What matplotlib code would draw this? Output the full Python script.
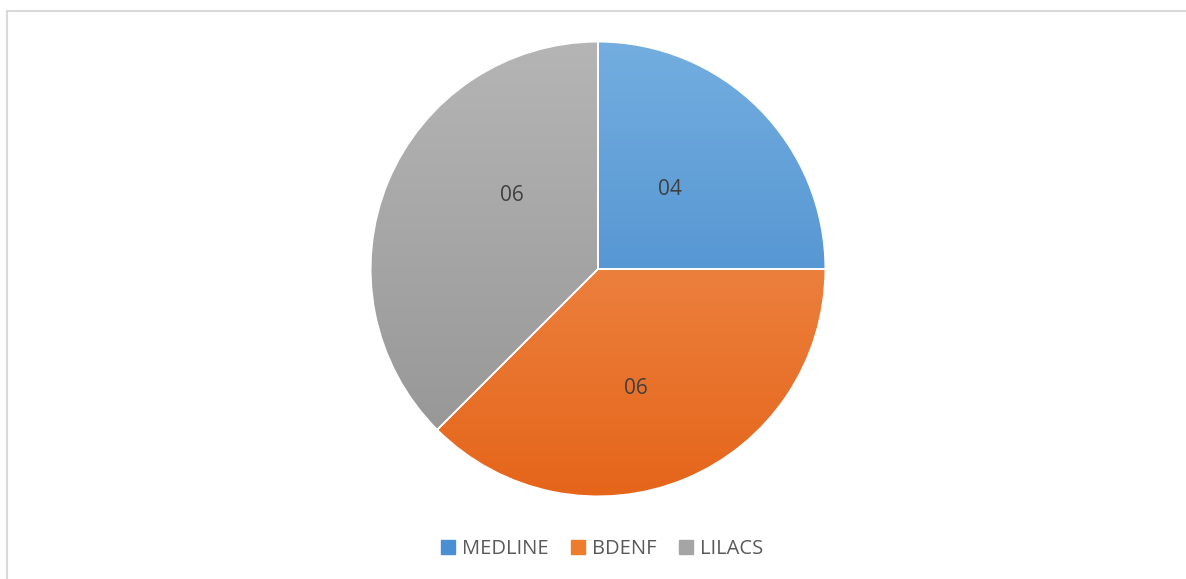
import numpy as np
import matplotlib.pyplot as plt
from matplotlib.colors import LinearSegmentedColormap
from matplotlib.patches import Rectangle

# dados
categorias = ["MEDLINE", "BDENF", "LILACS"]
valores = [4, 6, 6]
rotulos = ["04", "06", "06"]

# cores (claro em cima, escuro embaixo)
cores_topo = ["#74aee0", "#f39a60", "#b5b5b5"]
cores_base = ["#3a80c6", "#e5651a", "#939393"]
cores_legenda = ["#4a8ed4", "#ef7b2c", "#a5a5a5"]

# ajuste fino da posição dos rótulos (distância relativa ao raio, desvio de ângulo)
dist_rotulo = [0.47, 0.55, 0.50]
desvio_ang = [3, -5, -18]

plt.rcParams["font.family"] = ["Open Sans", "DejaVu Sans"]

fig = plt.figure(figsize=(11.86, 5.79), dpi=100)

# moldura do gráfico
fig.patches.append(Rectangle((7 / 1186, -0.1), 1.2, 1 - 11 / 579 + 0.1,
                             transform=fig.transFigure, fill=False,
                             edgecolor="#d9d9d9", linewidth=1.5))

ax = fig.add_axes([370 / 1186, 82 / 579, 456 / 1186, 456 / 579])
wedges, _ = ax.pie(valores, startangle=90, counterclock=False,
                   colors=cores_legenda,
                   wedgeprops=dict(linewidth=1.2, edgecolor="white"))

# gradiente vertical em cada fatia
grad = np.linspace(0, 1, 256).reshape(-1, 1)
for w, c0, c1 in zip(wedges, cores_topo, cores_base):
    cmap = LinearSegmentedColormap.from_list("g", [c0, c1])
    im = ax.imshow(grad, cmap=cmap, extent=[-1, 1, -1, 1],
                   aspect="auto", origin="upper", zorder=w.get_zorder() + 0.1)
    im.set_clip_path(w)
    w.set_facecolor("none")
    w.set_zorder(w.get_zorder() + 0.2)

# rótulos de dados
for w, txt, d, da in zip(wedges, rotulos, dist_rotulo, desvio_ang):
    ang = np.deg2rad((w.theta1 + w.theta2) / 2 + da)
    ax.text(d * np.cos(ang), d * np.sin(ang), txt, ha="center", va="center",
            fontsize=15, color="#404040", zorder=5)

ax.set_xlim(-1.003, 1.003)
ax.set_ylim(-1.003, 1.003)
ax.set_aspect("equal")
ax.axis("off")

# legenda
handles = [Rectangle((0, 0), 1, 1, color=c) for c in cores_legenda]
fig.legend(handles, categorias, loc="center", bbox_to_anchor=(602 / 1186, 1 - 549 / 579),
           ncol=3, frameon=False, fontsize=14.5, handlelength=0.7, handleheight=0.7,
           handletextpad=0.35, columnspacing=1.1, labelcolor="#595959")

fig.savefig("out.png", dpi=100, facecolor="white")
